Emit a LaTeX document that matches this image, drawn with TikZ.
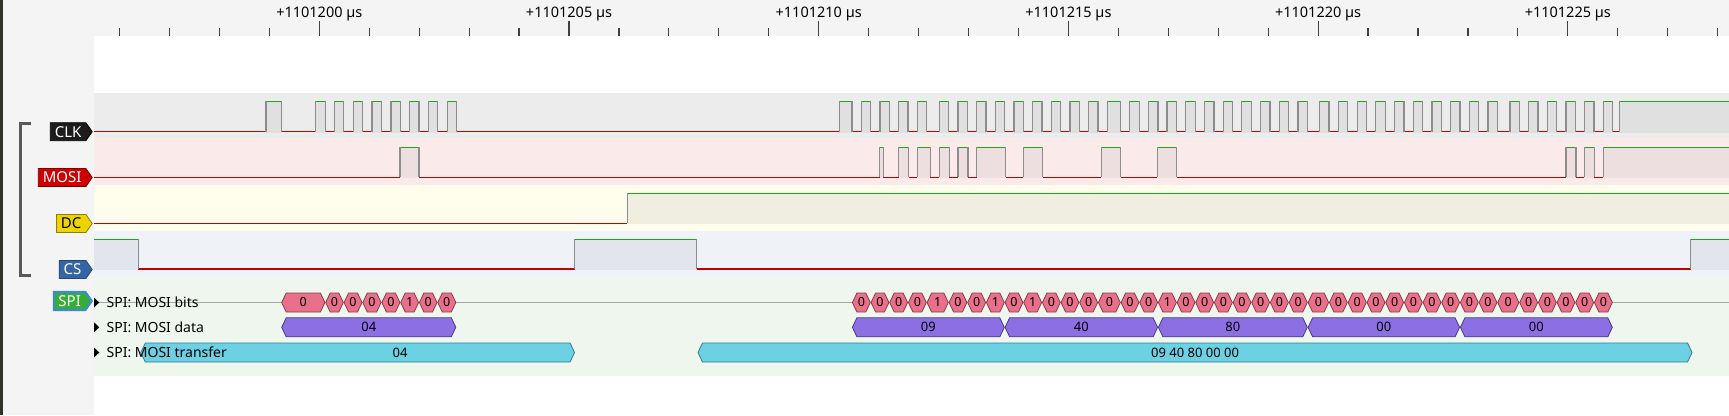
\documentclass[tikz,border=0pt]{standalone}
\usepackage{fontspec}
\setmainfont{Noto Sans}
\usetikzlibrary{shapes.symbols}
\definecolor{panelgrey}{HTML}{F4F4F4}
\definecolor{desktop}{HTML}{2E3324}
\definecolor{lowred}{HTML}{C40000}
\definecolor{highgreen}{HTML}{1BA81B}
\definecolor{edgegrey}{HTML}{8C8C8C}
\definecolor{clkbg}{HTML}{ECECEC}
\definecolor{clkhi}{HTML}{E0E0E0}
\definecolor{mosibg}{HTML}{FAEAEA}
\definecolor{mosihi}{HTML}{EDDFDF}
\definecolor{dcbg}{HTML}{FFFDEC}
\definecolor{dchi}{HTML}{F0EEE0}
\definecolor{csbg}{HTML}{EFF2F6}
\definecolor{cshi}{HTML}{E2E6EC}
\definecolor{spibg}{HTML}{EEF6EE}
\definecolor{bitpink}{HTML}{E8708A}
\definecolor{bitedge}{HTML}{8E3A4E}
\definecolor{datapurple}{HTML}{8C6FE2}
\definecolor{dataedge}{HTML}{4A3A8C}
\definecolor{xfercyan}{HTML}{6CD1E3}
\definecolor{xferedge}{HTML}{2F7F8F}
\definecolor{tagblack}{HTML}{1C1C1C}
\definecolor{tagred}{HTML}{CC0000}
\definecolor{tagyellow}{HTML}{EDD400}
\definecolor{tagblue}{HTML}{3465A4}
\definecolor{taggreen}{HTML}{36AE36}
\definecolor{selblue}{HTML}{3C8AD0}

% high y, low y, fill colour, list of high intervals a/b
\newcommand{\drawtrace}[4]{%
  \draw[lowline] (94,#2) -- (1735,#2);
  \foreach \a/\b in {#4} {
    \fill[#3] (\a,#1) rectangle (\b,#2+0.9);
    \draw[highline] (\a,#1) -- (\b,#1);
    \draw[risefall] (\a,#1) -- (\a,#2) (\b,#1) -- (\b,#2);
  }}
% x1, x2, centre y, style
\newcommand{\hexbox}[4]{%
  \draw[#4] (#1,#3) -- (#1+4.5,#3-9.5) -- (#2-4.5,#3-9.5) -- (#2,#3)
    -- (#2-4.5,#3+9.5) -- (#1+4.5,#3+9.5) -- cycle;}

\begin{document}
\begin{tikzpicture}[x=1pt, y=-1pt,
  lowline/.style={draw=lowred, line width=1.3pt},
  highline/.style={draw=highgreen, line width=1.3pt},
  risefall/.style={draw=edgegrey, line width=1.3pt},
  tickmark/.style={draw=black!75, line width=1.2pt},
  rulertext/.style={anchor=base, inner sep=0pt, font=\fontsize{14.5}{14.5}\selectfont},
  sigtag/.style={signal, signal to=east, signal pointer angle=110, anchor=east,
    minimum height=18pt, inner xsep=4.5pt, inner ysep=0pt, line width=0.8pt,
    font=\fontsize{15}{15}\selectfont},
  bitbox/.style={fill=bitpink, draw=bitedge, line width=0.8pt},
  bytebox/.style={fill=datapurple, draw=dataedge, line width=0.8pt},
  xferbox/.style={fill=xfercyan, draw=xferedge, line width=0.8pt},
  anntext/.style={anchor=base, inner sep=0pt, font=\fontsize{13}{13}\selectfont},
  bittext/.style={anchor=base, inner sep=0pt, font=\fontsize{12.5}{12.5}\selectfont},
  rowtitle/.style={anchor=base west, inner sep=0pt, font=\fontsize{14}{14}\selectfont},
  bracket/.style={draw=black!65, line width=2.6pt}]
\useasboundingbox (0,0) rectangle (1729,415);

% panels and rows
\fill[panelgrey] (0,0) rectangle (1729,415);
\fill[desktop] (0,0) rectangle (3,415);
\fill[white] (94,35.7) rectangle (1729,415);
\fill[clkbg] (94,92.7) rectangle (1729,138.3);
\fill[mosibg] (94,138.3) rectangle (1729,185);
\fill[dcbg] (94,185) rectangle (1729,230.7);
\fill[csbg] (94,230.7) rectangle (1729,276.7);
\fill[spibg] (94,276.7) rectangle (1729,376);

% ruler
\foreach \j in {-4,...,28}
  \draw[tickmark] ({319.3+\j*49.94},28.3) -- ({319.3+\j*49.94},35.7);
\foreach \j/\lbl [count=\k] in {0/1101200,5/1101205,10/1101210,15/1101215,20/1101220,25/1101225} {
  \draw[tickmark] ({319.3+\j*49.94},21) -- ({319.3+\j*49.94},28.3);
  \node[rulertext] (time\k) at ({319.3+\j*49.94},17.3) {+\lbl\ µs};
}

% logic traces
\begin{scope}
\clip (94,92.7) rectangle (1729,276.7);
\drawtrace{101.3}{131.7}{clkhi}{266/281.3, 315.7/325.3, 334.5/343.7, 353.3/362.4,
  372.1/381.5, 390.9/400.3, 409.7/419, 428.5/437.4, 447.3/456.2,
  839.3/852, 861.3/870.7, 880/889.3, 898.7/908, 917.3/926.7, 939.3/948.7,
  958/967.3, 976.7/986, 995.3/1004.7, 1014/1023.3, 1032.7/1042, 1051.3/1060.7,
  1070/1079.3, 1088.7/1098, 1107.3/1120.7, 1129.3/1139.3, 1148.3/1158,
  1167/1176.7, 1185.7/1195.3, 1204.3/1214, 1223.3/1232.7, 1241.7/1251.3,
  1260.3/1270, 1279.3/1288.7, 1298/1307.7, 1319.7/1329, 1338.3/1347.7,
  1357.3/1366.7, 1375.7/1385.3, 1394.7/1404, 1413.3/1422.7, 1432/1441.3,
  1450.7/1460, 1469.3/1478.7, 1488/1497.3, 1510/1519.3, 1528.7/1538,
  1547.3/1556.7, 1566/1575.3, 1584.7/1594, 1603.3/1612.7, 1619.3/1735}
\drawtrace{147.3}{177.3}{mosihi}{400/419, 879.7/883.3, 898.7/908.7, 917.3/930.3,
  939.3/949.3, 958/968, 976.7/1005.7, 1023.3/1042.7, 1101.3/1120.7,
  1157.3/1176.7, 1566/1576, 1584.3/1594.3, 1603.3/1735}
\drawtrace{193.3}{223.3}{dchi}{627.3/1735}
\drawtrace{239.3}{269}{cshi}{88/138.2, 574.8/696.7, 1690.7/1735}
\end{scope}

% channel tags
\node[sigtag, fill=tagblack, draw=black, text=white] (clktag) at (92.7,131.7) {CLK};
\node[sigtag, fill=tagred, draw=tagred!60!black, text=white] (mositag) at (92.7,177.5) {MOSI};
\node[sigtag, fill=tagyellow, draw=tagyellow!60!black, text=black] (dctag) at (92.7,223.5) {DC};
\node[sigtag, fill=tagblue, draw=tagblue!70!black, text=white] (cstag) at (92.7,269.5) {CS};
\node[sigtag, fill=taggreen, draw=selblue, line width=2.2pt, text=white] (spitag) at (93,301) {SPI};
\draw[bracket] (30.5,123.3) -- (20.7,123.3) -- (20.7,275.7) -- (30.5,275.7);

% decoder rows
\draw[black!35, line width=0.9pt] (94,302.5) -- (1729,302.5);
\foreach \a/\b/\v [count=\i] in {281.3/325.3/0, 325.3/343.7/0, 343.7/362.4/0,
  362.4/381.5/0, 381.5/400.3/0, 400.3/419/1, 419/437.4/0, 437.4/456.2/0,
  852/870.7/0, 870.7/889.3/0, 889.3/908/0, 908/926.7/0, 926.7/948.7/1,
  948.7/967.3/0, 967.3/986/0, 986/1004.7/1, 1004.7/1023.3/0, 1023.3/1042/1,
  1042/1060.7/0, 1060.7/1079.3/0, 1079.3/1098/0, 1098/1120.7/0,
  1120.7/1139.3/0, 1139.3/1158/0, 1158/1176.7/1, 1176.7/1195.3/0,
  1195.3/1214/0, 1214/1232.7/0, 1232.7/1251.3/0, 1251.3/1270/0,
  1270/1288.7/0, 1288.7/1307.7/0, 1307.7/1329/0, 1329/1347.7/0,
  1347.7/1366.7/0, 1366.7/1385.3/0, 1385.3/1404/0, 1404/1422.7/0,
  1422.7/1441.3/0, 1441.3/1460/0, 1460/1478.7/0, 1478.7/1497.3/0,
  1497.3/1519.3/0, 1519.3/1538/0, 1538/1556.7/0, 1556.7/1575.3/0,
  1575.3/1594/0, 1594/1612.7/0} {
  \hexbox{\a+0.4}{\b-0.4}{302.5}{bitbox}
  \node[bittext] (bit\i) at ({(\a+\b)/2},306.9) {\v};
}
\foreach \a/\b/\v [count=\i] in {281.3/456.2/04, 852/1004.7/09, 1004.7/1158/40,
  1158/1307.7/80, 1307.7/1460/00, 1460/1612.7/00} {
  \hexbox{\a+0.4}{\b-0.4}{327.3}{bytebox}
  \node[anntext] (byte\i) at ({(\a+\b)/2},331.9) {\v};
}
\hexbox{140.8}{574.5}{352.5}{xferbox}
\node[anntext] (xfer1) at (400,357.1) {04};
\hexbox{698}{1692}{352.5}{xferbox}
\node[anntext] (xfer2) at (1195,357.1) {09 40 80 00 00};

% row titles
\foreach \y/\name/\txt in {302.5/bits/bits, 327.3/data/data, 352.5/transfer/transfer} {
  \fill (94,\y-5) -- (99.3,\y) -- (94,\y+5) -- cycle;
  \node[rowtitle] (\name title) at (106.4,\y+5) {SPI: MOSI \txt};
}
\end{tikzpicture}
\end{document}
